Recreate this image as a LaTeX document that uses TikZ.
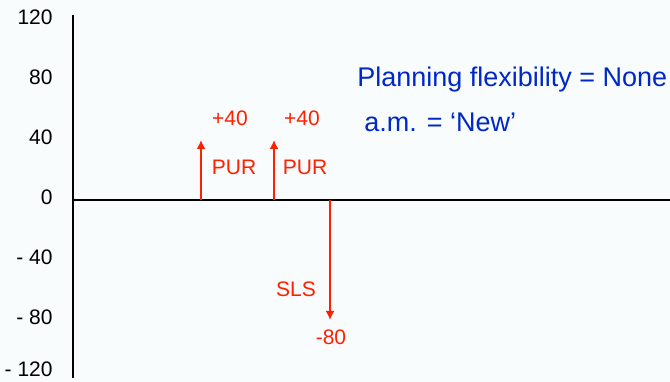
\documentclass[tikz,border=0pt]{standalone}
\usepackage{fontspec}
\setmainfont{Liberation Sans}
\usetikzlibrary{arrows.meta}
\definecolor{flowred}{RGB}{255,32,0}
\definecolor{noteblue}{RGB}{0,40,200}
\definecolor{paper}{RGB}{248,252,252}
\tikzset{
  flow/.style={draw=flowred, line width=1.4pt, -{Latex[length=4.5pt,width=4.5pt]}},
  flowlabel/.style={text=flowred, font=\fontsize{10.5}{12}\selectfont, inner sep=0pt},
  ticklabel/.style={anchor=east, font=\fontsize{10.5}{12}\selectfont, inner sep=0pt},
  note/.style={anchor=west, text=noteblue, font=\fontsize{13.5}{16}\selectfont, inner sep=0pt}
}
\begin{document}
\begin{tikzpicture}[x=0.5pt, y=0.75pt]
    % Background and frame size
    \fill[paper] (-73, -121.33) rectangle (597, 133.33);
    \useasboundingbox (-73, -121.33) rectangle (597, 133.33);

    % Axes
    \coordinate (ytop) at (0, 123);
    \coordinate (ybot) at (0, -119);
    \coordinate (xend) at (597, 0);
    \draw[line width=1pt] (ytop) -- (ybot);
    \draw[line width=1pt] (0, 0) coordinate (origin) -- (xend);

    % Tick labels
    \foreach \v/\t/\h in {120/120/a, 80/80/b, 40/40/c, 0/0/d, -40/- 40/e, -80/- 80/f}
        \node[ticklabel] (tick\h) at (-20, \v+2) {\t};
    \node[ticklabel] (tickg) at (-20, -113) {- 120};

    % Purchases
    \coordinate (pur1) at (128, 0);
    \coordinate (pur1top) at (128, 40);
    \draw[flow] (pur1) -- (pur1top);
    \node[flowlabel] (qty1) at (157, 54.7) {+40};
    \node[flowlabel] (lab1) at (161, 22) {PUR};

    \coordinate (pur2) at (201, 0);
    \coordinate (pur2top) at (201, 40);
    \draw[flow] (pur2) -- (pur2top);
    \node[flowlabel] (qty2) at (229, 54.7) {+40};
    \node[flowlabel] (lab2) at (232, 22) {PUR};

    % Sale
    \coordinate (sls) at (257, 0);
    \coordinate (slsbot) at (257, -80);
    \draw[flow] (sls) -- (slsbot);
    \node[flowlabel] (lab3) at (223, -59.3) {SLS};
    \node[flowlabel] (qty3) at (258, -91.3) {-80};

    % Notes
    \node[note] (flex) at (284, 80) {Planning flexibility = None};
    \node[note] (am) at (291, 52) {a.m. = ‘New’};
\end{tikzpicture}
\end{document}
